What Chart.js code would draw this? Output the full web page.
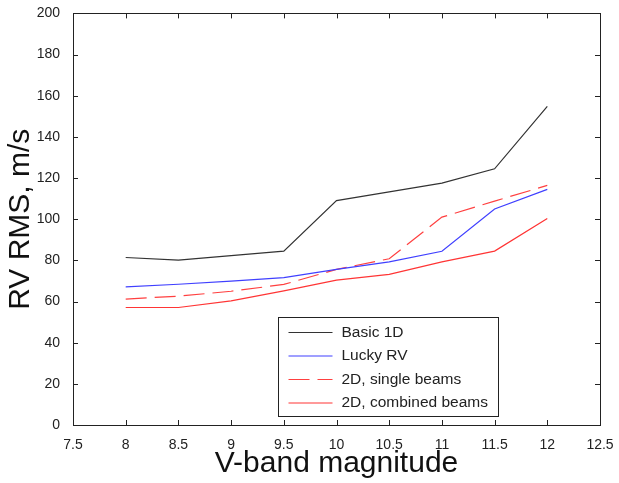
<!DOCTYPE html>
<html>
<head>
<meta charset="utf-8">
<script src="https://cdn.jsdelivr.net/npm/chart.js@4.4.0/dist/chart.umd.min.js"></script>
<style>
  body { margin: 0; background: #fff; }
  #wrap { width: 619px; height: 483px; }
</style>
</head>
<body>
<div id="wrap"><canvas id="rvChart"></canvas></div>
<script>
// V-band magnitudes
var magnitudes = [8, 8.5, 9, 9.5, 10, 10.5, 11, 11.5, 12];

// RV RMS, m/s
var basic1D    = [81.4, 80.1, 82.3, 84.5, 109, 113.3, 117.5, 124.5, 154.8];
var luckyRV    = [67.1, 68.4, 69.9, 71.6, 75.6, 79.3, 84.4, 105, 114.5];
var single2D   = [61.2, 62.6, 65, 68.3, 75.6, 80.8, 101, 108.8, 116.4];
var combined2D = [57.1, 57.1, 60.3, 65.2, 70.4, 73.2, 79.3, 84.5, 100.3];

var xTicks = [7.5, 8, 8.5, 9, 9.5, 10, 10.5, 11, 11.5, 12, 12.5];
var yTicks = [0, 20, 40, 60, 80, 100, 120, 140, 160, 180, 200];

function toPoints(vals) {
    var pts = [];
    for (let i = 0; i < magnitudes.length; i++) {
        pts.push({ x: magnitudes[i], y: vals[i] });
    }
    return pts;
}

// box + inward ticks + legend, matlab style
var matlabFrame = {
    id: 'matlabFrame',
    afterDraw: function (chart) {
        var ctx = chart.ctx;
        var a = chart.chartArea;
        var xs = chart.scales.x, ys = chart.scales.y;
        ctx.save();
        ctx.strokeStyle = '#222';
        ctx.lineWidth = 1;
        ctx.setLineDash([]);
        ctx.strokeRect(Math.round(a.left) + 0.5, Math.round(a.top) + 0.5,
            Math.round(a.right - a.left), Math.round(a.bottom - a.top));
        ctx.beginPath();
        for (let v of xTicks) {
            var px = Math.round(xs.getPixelForValue(v)) + 0.5;
            ctx.moveTo(px, a.bottom); ctx.lineTo(px, a.bottom - 5);
            ctx.moveTo(px, a.top); ctx.lineTo(px, a.top + 5);
        }
        for (let v of yTicks) {
            var py = Math.round(ys.getPixelForValue(v)) + 0.5;
            ctx.moveTo(a.left, py); ctx.lineTo(a.left + 5, py);
            ctx.moveTo(a.right, py); ctx.lineTo(a.right - 5, py);
        }
        ctx.stroke();

        // legend
        var lx = Math.round(a.left) + 205.5, ly = Math.round(a.top) + 304.5;
        var lw = 220, lh = 99;
        ctx.fillStyle = '#fff';
        ctx.fillRect(lx, ly, lw, lh);
        ctx.lineWidth = 1;
        ctx.strokeStyle = '#222';
        ctx.strokeRect(lx, ly, lw, lh);
        ctx.font = '15.5px "Liberation Sans", Arial, sans-serif';
        ctx.textBaseline = 'middle';
        ctx.textAlign = 'left';
        var ds = chart.data.datasets;
        for (let i = 0; i < ds.length; i++) {
            var ry = ly + 15 + i * 23.5;
            ctx.strokeStyle = ds[i].borderColor;
            ctx.lineWidth = ds[i].borderWidth;
            ctx.setLineDash(ds[i].borderDash || []);
            ctx.beginPath();
            ctx.moveTo(lx + 10, ry); ctx.lineTo(lx + 54, ry);
            ctx.stroke();
            ctx.fillStyle = '#222';
            ctx.fillText(ds[i].label, lx + 63, ry);
        }
        ctx.restore();
    }
};

var chartdata = {
    datasets: [
        { label: 'Basic 1D', data: toPoints(basic1D), borderColor: '#333333', borderWidth: 1.2 },
        { label: 'Lucky RV', data: toPoints(luckyRV), borderColor: '#4040ff', borderWidth: 1.2 },
        { label: '2D, single beams', data: toPoints(single2D), borderColor: '#ff4040', borderWidth: 1.2, borderDash: [21, 8] },
        { label: '2D, combined beams', data: toPoints(combined2D), borderColor: '#ff3535', borderWidth: 1.2 }
    ]
};

var tickFont = { family: '"Liberation Sans", Arial, sans-serif', size: 14 };
var titleFont = { family: '"Liberation Sans", Arial, sans-serif', size: 30 };

var rvChart = new Chart(document.getElementById('rvChart'), {
    type: 'line',
    data: chartdata,
    plugins: [matlabFrame],
    options: {
        responsive: true,
        maintainAspectRatio: false,
        animation: false,
        elements: { point: { radius: 0 }, line: { tension: 0 } },
        layout: { padding: { top: 13, right: 19, left: 0, bottom: 0 } },
        plugins: { legend: { display: false }, tooltip: { enabled: false } },
        scales: {
            x: {
                type: 'linear',
                min: 7.5, max: 12.5,
                afterBuildTicks: function (scale) { scale.ticks = xTicks.map(function (v) { return { value: v }; }); },
                afterFit: function (scale) { scale.height = 58; },
                grid: { display: false },
                border: { display: false },
                ticks: {
                    font: tickFont, color: '#222', padding: 4, maxRotation: 0, autoSkip: false,
                    callback: function (v) { return String(v); }
                },
                title: { display: true, text: 'V-band magnitude', font: titleFont, color: '#111', padding: { top: 0, bottom: 1 } }
            },
            y: {
                min: 0, max: 200,
                afterBuildTicks: function (scale) { scale.ticks = yTicks.map(function (v) { return { value: v }; }); },
                afterFit: function (scale) { scale.width = 73; },
                grid: { display: false },
                border: { display: false },
                ticks: { font: tickFont, color: '#222', padding: 5 },
                title: { display: true, text: 'RV RMS, m/s', font: titleFont, color: '#111', padding: { top: 3, bottom: 0 } }
            }
        }
    }
});
</script>
</body>
</html>
